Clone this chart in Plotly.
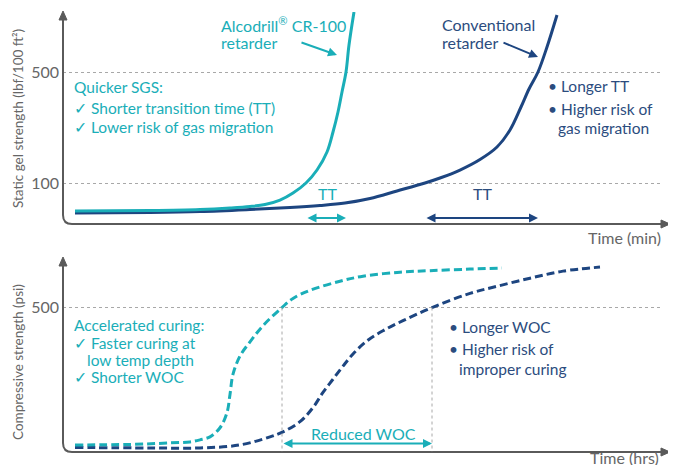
import numpy as np
import plotly.graph_objects as go

# page body has an 8px margin: figure is drawn 8px in from the window's corner
OFF = 8
WIN_W, WIN_H = 676, 473
W, H = WIN_W - 2 * OFF, WIN_H - 2 * OFF
FONT = "Lato"
TEAL = "#1AAEB8"
NAVY = "#1D4580"
NAVY_TXT = "#2B4C7E"
GRAY = "#5A5A5A"
LGRAY = "#666666"
GRID = "#A8A8A8"

# ---------------- Data: static gel strength (lbf/100 ft²) vs time (min) ----------------
sgs_time_alco = [2.4, 17.4, 27.4, 33.4, 37.4, 40.4, 43.4, 46.0, 48.6, 50.8, 52.8, 54.0, 55.0, 55.8, 56.6, 57.2, 58.2]
sgs_alco = [66.6, 67.1, 68.1, 69.6, 71.1, 73.2, 78.1, 86.5, 100, 120.7, 156.8, 209.5, 280.1, 374.2, 500, 739.6, 1193.6]
sgs_time_conv = [2.4, 17.4, 27.4, 37.4, 45.4, 51.4, 56.4, 61.4, 66.8, 72.4, 75.4, 79.4, 83.4, 86.8, 89.4, 91.6, 93.2, 95.0, 96.8, 98.8]
sgs_conv = [64.7, 65.2, 66.1, 68.1, 70.1, 72.2, 74.8, 79.9, 89.1, 100, 107.5, 120.7, 140.6, 168.5, 215.7, 301.0, 390.8, 500, 718.5, 1142.8]
sgs_ticks = [100, 500]
tt_alco = [48.6, 56.6]      # transition time window, Alcodrill
tt_conv = [72.4, 95.0]      # transition time window, conventional
tt_arrow_level = 60.2

# ---------------- Data: compressive strength (psi) vs time (hrs) ----------------
cs_time_alco = [2.4, 13.4, 21.4, 25.4, 27.4, 29.4, 31.4, 32.8, 33.4, 34.0, 35.4, 37.4, 40.0, 43.8, 46.0, 49.4, 55.4, 60.0, 67.4, 73.4, 81.4, 87.8]
cs_alco = [10.8, 12.6, 18.0, 21.6, 28.8, 39.6, 71.9, 125.9, 190.6, 262.6, 327.3, 377.7, 435.3, 500, 532.4, 561.2, 593.5, 611.5, 625.9, 631.3, 636.7, 640.3]
cs_time_conv = [2.4, 17.4, 27.4, 35.4, 41.4, 44.0, 47.4, 50.0, 52.0, 54.0, 56.0, 58.0, 60.8, 64.0, 68.0, 73.8, 81.4, 86.8, 93.4, 100.0, 107.4]
cs_conv = [1.8, 0, 0, 10.8, 39.6, 57.6, 93.5, 143.9, 197.8, 244.6, 291.4, 334.5, 381.3, 417.3, 453.2, 500, 550.4, 575.5, 604.3, 629.5, 643.9]
cs_ticks = [500]
woc = [43.8, 73.8]
woc_arrow_level = 16.0

# ---------------- helpers (window pixel positions -> paper) ----------------
def fx(p):
    return (p - OFF) / W

def fy(p):
    return 1 - (p - OFF) / H

def txt(s, x, y, color, size=15.5, anchor="left"):
    return dict(text=s, x=fx(x), y=fy(y), xref="paper", yref="paper",
                xanchor=anchor, yanchor="middle", showarrow=False,
                font=dict(color=color, size=size, family=FONT))

fig = go.Figure()

fig.add_trace(go.Scatter(x=sgs_time_conv, y=sgs_conv, mode="lines", line=dict(color=NAVY, width=3, shape="spline"),
                         xaxis="x", yaxis="y", showlegend=False, hoverinfo="skip"))
fig.add_trace(go.Scatter(x=sgs_time_alco, y=sgs_alco, mode="lines", line=dict(color=TEAL, width=3, shape="spline"),
                         xaxis="x", yaxis="y", showlegend=False, hoverinfo="skip"))
fig.add_trace(go.Scatter(x=cs_time_conv, y=cs_conv, mode="lines", line=dict(color=NAVY, width=3, shape="spline", dash="8px,4px"),
                         xaxis="x2", yaxis="y2", showlegend=False, hoverinfo="skip"))
fig.add_trace(go.Scatter(x=cs_time_alco, y=cs_alco, mode="lines", line=dict(color=TEAL, width=3, shape="spline", dash="8px,4px"),
                         xaxis="x2", yaxis="y2", showlegend=False, hoverinfo="skip"))

top_rng = [2 - 41 / 158.8, 2 + 171 / 158.8]
bot_rng = [-14.4, 676.3]

axis_common = dict(showline=False, zeroline=False, ticks="")
tickfont = dict(color=LGRAY, size=16, family=FONT)
fig.update_layout(
    width=W, height=H,
    margin=dict(l=0, r=0, t=0, b=0, pad=0),
    paper_bgcolor="white", plot_bgcolor="white",
    xaxis=dict(domain=[fx(63), fx(663)], range=[0, 120], showgrid=False, showticklabels=False, anchor="y", **axis_common),
    yaxis=dict(domain=[fy(224), fy(12)], type="log", range=top_rng, tickvals=sgs_ticks, ticktext=[str(v) for v in sgs_ticks],
               showgrid=True, gridcolor=GRID, griddash="dot", gridwidth=1, anchor="x", ticklabelstandoff=3,
               tickfont=tickfont, **axis_common),
    xaxis2=dict(domain=[fx(63), fx(663)], range=[0, 120], showgrid=False, showticklabels=False, anchor="y2", **axis_common),
    yaxis2=dict(domain=[fy(452), fy(258)], range=bot_rng, tickvals=cs_ticks, ticktext=[str(v) for v in cs_ticks],
                showgrid=True, gridcolor=GRID, griddash="dot", gridwidth=1, anchor="x2", ticklabelstandoff=3,
                tickfont=tickfont, **axis_common),
)

shapes = []
# axes with rounded corner and arrow heads
for top, bot in [(12, 224), (258, 452)]:
    shapes.append(dict(type="path", xref="paper", yref="paper",
                       path=f"M {fx(63)},{fy(top+4)} L {fx(63)},{fy(bot-9)} Q {fx(63)},{fy(bot)} {fx(72)},{fy(bot)} L {fx(664)},{fy(bot)}",
                       line=dict(color=GRAY, width=2)))
    shapes.append(dict(type="path", xref="paper", yref="paper",
                       path=f"M {fx(63)},{fy(top-1)} L {fx(59)},{fy(top+8)} L {fx(67)},{fy(top+8)} Z",
                       fillcolor=GRAY, line=dict(color=GRAY, width=1)))
    shapes.append(dict(type="path", xref="paper", yref="paper",
                       path=f"M {fx(670)},{fy(bot)} L {fx(661)},{fy(bot-4)} L {fx(661)},{fy(bot+4)} Z",
                       fillcolor=GRAY, line=dict(color=GRAY, width=1)))

# vertical dotted guides (top panel, log axis -> log10 coordinates)
for t, v in [(tt_alco[0], 100), (tt_alco[1], 500), (tt_conv[0], 100), (tt_conv[1], 500)]:
    shapes.append(dict(type="line", xref="x", yref="y", x0=t, x1=t, y0=np.log10(v), y1=top_rng[0] + 0.01,
                       line=dict(color=GRID, width=1, dash="dot")))
for t in woc:
    shapes.append(dict(type="line", xref="x2", yref="y2", x0=t, x1=t, y0=500, y1=bot_rng[0] + 1,
                       line=dict(color=GRID, width=1, dash="dot")))
fig.update_layout(shapes=shapes)

ann = []
# double arrows
ly = float(np.log10(tt_arrow_level))
for (a, b), c in [(tt_alco, TEAL), (tt_conv, NAVY)]:
    ann.append(dict(x=b, y=ly, ax=a, ay=ly, xref="x", yref="y", axref="x", ayref="y", text="",
                    showarrow=True, arrowside="end+start", arrowhead=2, arrowsize=0.9, arrowwidth=2, arrowcolor=c,
                    standoff=0, startstandoff=0))
ann.append(dict(x=woc[1], y=woc_arrow_level, ax=woc[0], ay=woc_arrow_level, xref="x2", yref="y2", axref="x2", ayref="y2",
                text="", showarrow=True, arrowside="end+start", arrowhead=2, arrowsize=0.9, arrowwidth=2, arrowcolor=TEAL,
                standoff=0, startstandoff=0))
# pointer arrows
ann.append(dict(x=fx(337), y=fy(55), xref="paper", yref="paper", ax=-37, ay=-13, text="", showarrow=True,
                arrowhead=2, arrowsize=0.9, arrowwidth=2, arrowcolor=TEAL))
ann.append(dict(x=fx(538), y=fy(57), xref="paper", yref="paper", ax=-36, ay=-15, text="", showarrow=True,
                arrowhead=2, arrowsize=0.9, arrowwidth=2, arrowcolor=NAVY))

# texts top
ann += [
    txt("Alcodrill<sup>®</sup> CR-100", 219, 25, TEAL, size=16),
    txt("retarder", 219, 43, TEAL, size=16),
    txt("Conventional", 440, 25, NAVY_TXT, size=16),
    txt("retarder", 440, 43, NAVY_TXT, size=16),
    txt("Quicker SGS:", 72, 87, TEAL),
    txt("✓ Shorter transition time (TT)", 72, 108, TEAL),
    txt("✓ Lower risk of gas migration", 72, 127, TEAL),
    txt("• Longer TT", 546, 86, NAVY_TXT),
    txt("• Higher risk of", 546, 109, NAVY_TXT),
    txt("gas migration", 556, 128, NAVY_TXT),
    txt("TT", 327, 193, TEAL, size=16, anchor="center"),
    txt("TT", 482, 193, NAVY_TXT, size=16, anchor="center"),
    txt("Time (min)", 663, 237, LGRAY, size=16, anchor="right"),
    dict(text="Static gel strength (lbf/100 ft²)", x=fx(18), y=fy(119), xref="paper", yref="paper", textangle=-90,
         showarrow=False, xanchor="center", yanchor="middle", font=dict(color=LGRAY, size=13.5, family=FONT)),
    # bottom
    txt("Accelerated curing:", 72, 325, TEAL),
    txt("✓ Faster curing at", 72, 343, TEAL),
    txt("low temp depth", 85, 360, TEAL),
    txt("✓ Shorter WOC", 72, 377, TEAL),
    txt("• Longer WOC", 447, 327, NAVY_TXT),
    txt("• Higher risk of", 447, 349, NAVY_TXT),
    txt("improper curing", 457, 369, NAVY_TXT),
    txt("Reduced WOC", 363, 433, TEAL, size=16, anchor="center"),
    txt("Time (hrs)", 661, 457, LGRAY, size=16, anchor="right"),
    dict(text="Compressive strength (psi)", x=fx(18), y=fy(362), xref="paper", yref="paper", textangle=-90,
         showarrow=False, xanchor="center", yanchor="middle", font=dict(color=LGRAY, size=13.5, family=FONT)),
]
fig.update_layout(annotations=ann)

fig.write_html("out.html")
